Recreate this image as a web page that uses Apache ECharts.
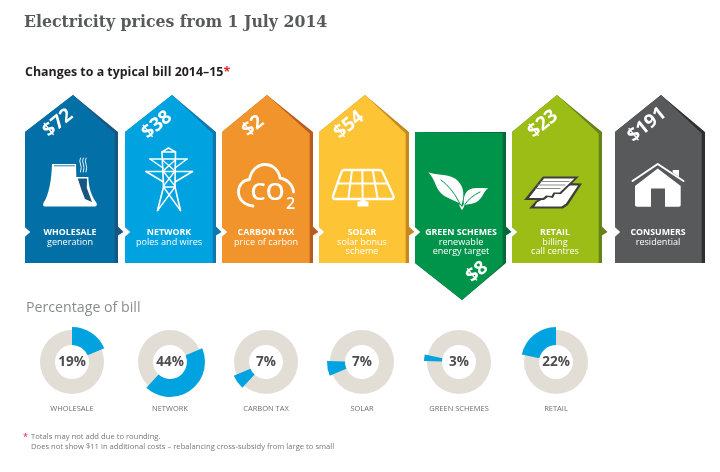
<!DOCTYPE html>
<html>
<head>
<meta charset="utf-8">
<title>Electricity prices from 1 July 2014</title>
<style>
    html, body { margin: 0; padding: 0; background: #fff; }
    #chart { width: 720px; height: 472px; }
</style>
<script src="https://cdn.jsdelivr.net/npm/echarts@6/dist/echarts.min.js"></script>
</head>
<body>
<div id="chart"></div>
<script>
// data
var billCategories = ['WHOLESALE', 'NETWORK', 'CARBON TAX', 'SOLAR', 'GREEN SCHEMES', 'RETAIL', 'CONSUMERS'];
var billDetails = [['generation'], ['poles and wires'], ['price of carbon'], ['solar bonus', 'scheme'], ['renewable', 'energy target'], ['billing', 'call centres'], ['residential']];
var billChanges = [72, 38, 2, 54, 8, 23, 191];
var shareCategories = ['WHOLESALE', 'NETWORK', 'CARBON TAX', 'SOLAR', 'GREEN SCHEMES', 'RETAIL'];
var shareValues = [19, 44, 7, 7, 3, 22];

// card layout and colours
var cardLeft = [25, 125, 222, 319, 415, 512, 615];
var cardRight = [118, 216, 313, 409, 506, 602, 705];
var cardApex = [73, 172, 267, 365, 462, 557, 661];
var textX = [70, 169, 266, 362, 461, 555, 658];
var amountPos = [[58, 123], [157, 125], [253, 126], [349, 125], [477, 272], [543, 124], [647, 125]];
var faceColor = ['#0270A6', '#00A3E0', '#F0942B', '#FDC436', '#00934A', '#9CBC16', '#58595B'];
var edgeColor = ['#17577F', '#0C78AE', '#B85C1F', '#C48A20', '#05693A', '#66821A', '#2F2F31'];
var GREEN = 4, LAST = 6;
var TOP = 95, SHOULDER = 132, BOTTOM = 263, GREEN_TIP = 300, NOTCH = 232;

var donutX = [72, 170, 266, 362, 459, 556];
var donutY = 362;
var sans = '"Open Sans", "Noto Sans", sans-serif';

function poly(points, fill) {
    return { type: 'polygon', shape: { points: points }, style: { fill: fill } };
}
function line(d, width, color) {
    return { type: 'path', shape: { pathData: d }, style: { fill: 'none', stroke: color || '#fff', lineWidth: width, lineCap: 'round', lineJoin: 'round' } };
}
function solid(d, color) {
    return { type: 'path', shape: { pathData: d }, style: { fill: color || '#fff' } };
}
function label(text, x, y, font, color, rotation) {
    return { type: 'text', x: x, y: y, rotation: rotation || 0, style: { text: text, font: font, fill: color || '#fff', align: 'center', verticalAlign: 'middle' } };
}

// icons are drawn straight in page pixels
var icons = [
    function () {
        return [
            solid('M52,164 L76,164 L76.3,177 L88.3,177 C88.6,188 92,197 96.6,203 C97.2,205 96.6,206.5 95,206.5 L45,206.5 C43.4,206.5 42.6,205 43.4,203 C49,195 51.5,180 52,164 Z'),
            poly([[77.8, 178.6], [87, 178.6], [86.8, 188], [92, 202], [85, 199], [81.5, 190]], '#17577F'),
            line('M54.5,165.8 L74.5,165.8', 0.9, '#0270A6'),
            line('M80.5,158 q-1.5,3 0,6 q1.5,3 0,8', 0.9),
            line('M83.3,158 q-1.5,3 0,6 q1.5,3 0,8', 0.9),
            line('M86,158 q-1.5,3 0,6 q1.5,3 0,8', 0.9)
        ];
    },
    function () {
        return [
            line('M162,152 L168.5,148 L175.5,152 Z', 1.5),
            line('M150,159 L187,159 M146,171.5 L192.5,171.5', 1.6),
            line('M150,159 L163,168 M187,159 L175,168 M146,171.5 L163.5,182 M192.5,171.5 L175,182', 1.5),
            line('M162,152 L163.5,187 L157.5,210.5 M175.5,152 L175,187 L180.5,210.5', 1.6),
            line('M162.5,160 L175,171 L163.5,186 M175.3,160 L163,171 L175,186 M163.5,187 L175,187', 1.3),
            line('M163.5,187 L180.5,210.5 M175,187 L157.5,210.5', 1.4)
        ];
    },
    function () {
        return [
            line('M253,206 C244,205 238.5,199 238.5,192 C238.5,185 243,180 249.5,179.5 C251,171 257,164.5 265,164.5 C273,164.5 279,170.5 280,178 C287,179 293,185 293.5,192', 2.8),
            label('CO', 267.5, 193, '600 24px ' + sans),
            label('2', 290.5, 204.5, '600 16px ' + sans)
        ];
    },
    function () {
        return [
            line('M344,170 L379.5,170 C381,170 382,171 382.5,172 L393.5,196 C394.2,198 393,199 391.5,199 L335,199 C333.5,199 332.3,198 333,196 L341.5,172 C342,171 343,170 344,170 Z', 2.3),
            line('M338.5,183.5 L388,183.5', 2),
            line('M352,170 L348.3,199 M362.3,170 L362.7,199 M372.7,170 L377.7,199', 2),
            solid('M360.5,199 L365.5,199 L365.5,201.5 L368.5,201.5 L368.5,206.5 L357.5,206.5 L357.5,201.5 L360.5,201.5 Z')
        ];
    },
    function () {
        return [
            solid('M428.3,172.3 C440,176 452,174 458,181 C465,188 464,198 461.5,205 C458,201 450,200 443,195 C435,189 436,180 428.3,172.3 Z'),
            solid('M488.3,188.3 C480,188.5 471,186.5 466.5,192 C463.5,196 463.5,201 464,205 C470,204 476,204 480,199 C484,195 484,191 488.3,188.3 Z'),
            line('M460,205 L462,209 L464,205', 1.6),
            line('M441,180 C449,186 456,195 460.5,205', 1, '#00934A'),
            line('M480,192 C474,195 468,199 464.5,205', 1, '#00934A')
        ];
    },
    function () {
        var dark = '#3F3F3A';
        return [
            poly([[536, 201], [567, 183], [582, 183.5], [568, 205], [563, 208.5], [529, 208.5]], dark),
            poly([[537, 202.5], [567, 185.5], [578, 185.5], [566, 203.5], [561.5, 206.5], [534.5, 206.5]], '#fff'),
            poly([[543, 176.5], [579, 176.5], [561, 194], [555, 194], [553, 198], [548, 197], [544, 200], [524, 200]], dark),
            poly([[544, 178.5], [574.5, 178.5], [559.5, 192.5], [553.5, 192.5], [551.5, 196], [546, 195.5], [543, 198], [529, 198]], '#fff'),
            line('M541,181.5 L569,181.5 M538,185 L565,185 M536,188.5 L560,188.5', 1.2, '#8C8F86')
        ];
    },
    function () {
        return [
            line('M632.5,181 L657.7,164 L683.5,181', 2),
            solid('M672.7,170 L679,170 L679,177 L672.7,172.6 Z'),
            solid('M657.7,168.5 L680.7,186 L680.7,205 C680.7,206 680,206.7 679,206.7 L665,206.7 L665,188.5 L651,188.5 L651,206.7 L637,206.7 C636,206.7 635,206 635,205 L635,186 Z')
        ];
    }
];

function cardShape(i) {
    var l = cardLeft[i], r = cardRight[i], a = cardApex[i], inner = r - 3.3;
    var notch = [[l, NOTCH + 5], [l + 5.5, NOTCH], [l, NOTCH - 5]];
    if (i === GREEN) {
        return {
            back: [[l, SHOULDER], [r, SHOULDER], [r, BOTTOM], [a, GREEN_TIP], [l, BOTTOM]].concat(notch),
            face: [[l, SHOULDER], [inner, SHOULDER + 1], [inner, BOTTOM + 1.5], [a, GREEN_TIP], [l, BOTTOM]].concat(notch)
        };
    }
    return {
        back: [[l, SHOULDER], [a, TOP], [r, SHOULDER], [r, BOTTOM], [l, BOTTOM]].concat(notch),
        face: [[l, SHOULDER], [a, TOP], [inner, SHOULDER + 1.5], [inner, BOTTOM], [l, BOTTOM]].concat(notch)
    };
}

function renderCard(params) {
    var i = params.dataIndex;
    var r = cardRight[i];
    var shape = cardShape(i);
    var children = [poly(shape.back, edgeColor[i]), poly(shape.face, faceColor[i])];
    // small arrow pointing at the next card
    if (i !== LAST) {
        children.push(poly([[r - 3.3, NOTCH + 5.5], [r + 5.5, NOTCH], [r, NOTCH - 5.5]], edgeColor[i]));
    }
    children = children.concat(icons[i]());
    children.push(label(billCategories[i], textX[i], 232, '700 8.8px ' + sans));
    billDetails[i].forEach(function (text, k) {
        children.push(label(text, textX[i], 242 + k * 9.3, '400 9.1px ' + sans));
    });
    children.push(label('$' + billChanges[i], amountPos[i][0], amountPos[i][1], '700 19px ' + sans, '#fff', 0.68));
    return { type: 'group', children: children };
}

var series = [{
    type: 'custom',
    coordinateSystem: 'none',
    silent: true,
    data: billCategories,
    renderItem: renderCard
}];

// the blue slices follow each other round the ring, the shares add to 102
var shareTotal = shareValues.reduce(function (a, b) { return a + b; }, 0);
var running = 0;
shareValues.forEach(function (value, i) {
    series.push({
        type: 'pie',
        silent: true,
        center: [donutX[i], donutY],
        radius: [17, 32],
        label: { show: false },
        labelLine: { show: false },
        data: [{ value: 1, itemStyle: { color: '#E2DED6' } }]
    });
    series.push({
        type: 'pie',
        silent: true,
        center: [donutX[i], donutY],
        radius: [17, 35],
        startAngle: 90 - 360 * running / shareTotal,
        labelLine: { show: false },
        data: [
            { value: value, itemStyle: { color: '#00A3E0' }, label: { show: true, position: 'center', formatter: '{c}%', fontFamily: sans, fontWeight: 700, fontSize: 13.5, color: '#4D4D4F' } },
            { value: shareTotal - value, itemStyle: { color: 'transparent' }, label: { show: false } }
        ]
    });
    running += value;
});

var texts = [
    { type: 'text', left: 24, top: 13, style: { text: 'Electricity prices from 1 July 2014', font: '700 17.5px "DejaVu Serif Condensed", "DejaVu Serif", serif', fill: '#58595B' } },
    { type: 'text', left: 25, top: 66, style: { text: 'Changes to a typical bill 2014\u201315', font: '700 12.4px ' + sans, fill: '#231F20' } },
    { type: 'text', left: 223.5, top: 66, style: { text: '*', font: '700 12.5px ' + sans, fill: '#E8262A' } },
    { type: 'text', left: 26, top: 301, style: { text: 'Percentage of bill', font: '400 14.2px ' + sans, fill: '#8A8C8E' } },
    { type: 'text', left: 23, top: 433, style: { text: '*', font: '400 9px ' + sans, fill: '#E8262A' } },
    { type: 'text', left: 31, top: 432.5, style: { text: 'Totals may not add due to rounding.', font: '400 7.65px ' + sans, fill: '#77787B' } },
    { type: 'text', left: 31, top: 442.5, style: { text: 'Does not show $11 in additional costs \u2013 rebalancing cross-subsidy from large to small', font: '400 7.65px ' + sans, fill: '#77787B' } }
];
shareCategories.forEach(function (name, i) {
    texts.push({ type: 'text', x: donutX[i], y: 408.5, style: { text: name, font: '400 7.5px ' + sans, fill: '#6D6E71', align: 'center', verticalAlign: 'middle' } });
});

var myChart = echarts.init(document.getElementById('chart'), null, { renderer: 'canvas' });
myChart.setOption({
    animation: false,
    backgroundColor: '#fff',
    graphic: { elements: texts },
    series: series
});
</script>
</body>
</html>
